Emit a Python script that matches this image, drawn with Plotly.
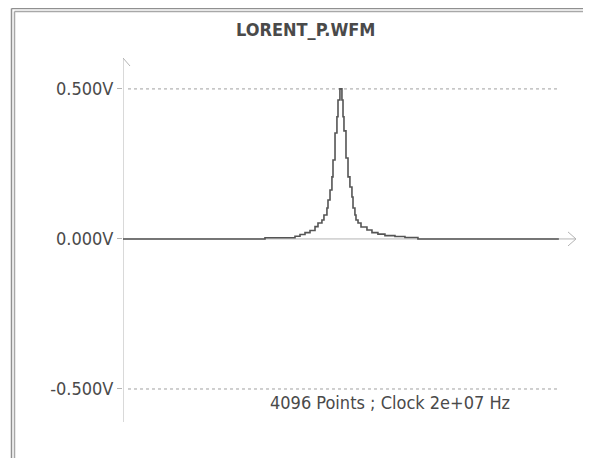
import plotly.graph_objects as go

# waveform: sample index -> voltage (step shape)
sample_idx = [0, 1334, 1616, 1663, 1710, 1757, 1804, 1832, 1869, 1888, 1916, 1926,
              1945, 1963, 1973, 1992, 2010, 2020, 2038, 2057, 2067, 2076, 2095, 2114,
              2132, 2151, 2161, 2179, 2189, 2208, 2236, 2292, 2339, 2395, 2461, 2555,
              2649, 2771, 4095]
volts = [0.0, 0.004, 0.009, 0.015, 0.021, 0.028, 0.041, 0.053, 0.063, 0.080, 0.103, 0.130,
         0.163, 0.207, 0.263, 0.353, 0.407, 0.463, 0.500, 0.463, 0.407, 0.360, 0.270, 0.207,
         0.173, 0.140, 0.103, 0.080, 0.063, 0.053, 0.040, 0.030, 0.021, 0.016, 0.011, 0.008,
         0.005, 0.0, 0.0]

tick_vals = [-0.5, 0.0, 0.5]
tick_text = ["-0.500V", "0.000V", "0.500V"]
title_text = "LORENT_P.WFM"
info_text = "4096 Points ; Clock 2e+07 Hz"

# the page body has an 8px margin, so the figure is drawn smaller
# and everything below is given in window pixels, shifted by OFF
OFF = 8
W, H = 591 - OFF, 466 - 2 * OFF
L, T = 123 - OFF, 58 - OFF
R, B = W - (576 - OFF), H - (422 - OFF)
x_max = 4256
y_lo, y_hi = -0.61, 0.603
pw, ph = W - L - R, H - T - B
px_x = x_max / pw          # data units per pixel (x)
px_y = (y_hi - y_lo) / ph  # data units per pixel (y)


def paper_x(p):
    return (p - OFF - L) / pw


def paper_y(p):
    return (H - B - (p - OFF)) / ph


FONT = "DejaVu Sans Condensed, DejaVu Sans"
TXT = "#4a4a4a"
AX = "#b4b4b4"

fig = go.Figure()
fig.add_trace(go.Scatter(x=sample_idx, y=volts, mode="lines", line_shape="hv",
                         line=dict(color="#555555", width=1.6), hoverinfo="skip"))

shapes = []
# axis lines
shapes.append(dict(type="line", xref="x", yref="y", x0=0, x1=x_max, y0=0, y1=0,
                   line=dict(color=AX, width=1), layer="below"))
shapes.append(dict(type="line", xref="x", yref="y", x0=0, x1=0, y0=y_lo, y1=y_hi,
                   line=dict(color=AX, width=1), layer="below"))
# arrow heads (open chevrons)
shapes.append(dict(type="path", xref="x", yref="y", layer="below",
                   path=f"M {-7*px_x} {y_hi-8*px_y} L 0 {y_hi} L {7*px_x} {y_hi-8*px_y}",
                   line=dict(color=AX, width=1)))
shapes.append(dict(type="path", xref="x", yref="y", layer="below",
                   path=f"M {x_max-8*px_x} {7*px_y} L {x_max} 0 L {x_max-8*px_x} {-7*px_y}",
                   line=dict(color=AX, width=1)))
# dotted grid lines
for v in (0.5, -0.5):
    shapes.append(dict(type="line", xref="x", yref="y", x0=5*px_x, x1=437*px_x, y0=v, y1=v,
                       line=dict(color="#a0a0a0", width=1, dash="dot"), layer="below"))
# double window frame (left and top)
for p, c in ((11.5, "#909090"), (14.5, "#a8a8a8")):
    xp = paper_x(p)
    yt = paper_y(p - 3)
    shapes.append(dict(type="line", xref="paper", yref="paper", x0=xp, x1=xp,
                       y0=paper_y(466), y1=yt, line=dict(color=c, width=1.5)))
    shapes.append(dict(type="line", xref="paper", yref="paper", x0=xp, x1=paper_x(591),
                       y0=yt, y1=yt, line=dict(color=c, width=1.5)))

fig.update_layout(
    width=W, height=H,
    margin=dict(l=L, r=R, t=T, b=B),
    paper_bgcolor="white", plot_bgcolor="white",
    showlegend=False,
    shapes=shapes,
    xaxis=dict(range=[0, x_max], visible=False, fixedrange=True),
    yaxis=dict(range=[y_lo, y_hi], tickvals=tick_vals, ticktext=tick_text,
               ticks="outside", ticklen=5, tickcolor=AX, showgrid=False, zeroline=False,
               showline=False, tickfont=dict(family=FONT, size=18, color=TXT),
               fixedrange=True),
    annotations=[
        dict(text="<b>" + title_text + "</b>", xref="paper", yref="paper",
             x=paper_x(305), y=paper_y(29.5), xanchor="center", yanchor="middle",
             showarrow=False, font=dict(family=FONT, size=18, color=TXT)),
        dict(text=info_text, xref="paper", yref="paper",
             x=paper_x(512), y=paper_y(402.5), xanchor="right", yanchor="middle",
             showarrow=False, font=dict(family=FONT, size=18, color=TXT)),
    ],
)

fig.write_html("out.html", config={"displayModeBar": False})
